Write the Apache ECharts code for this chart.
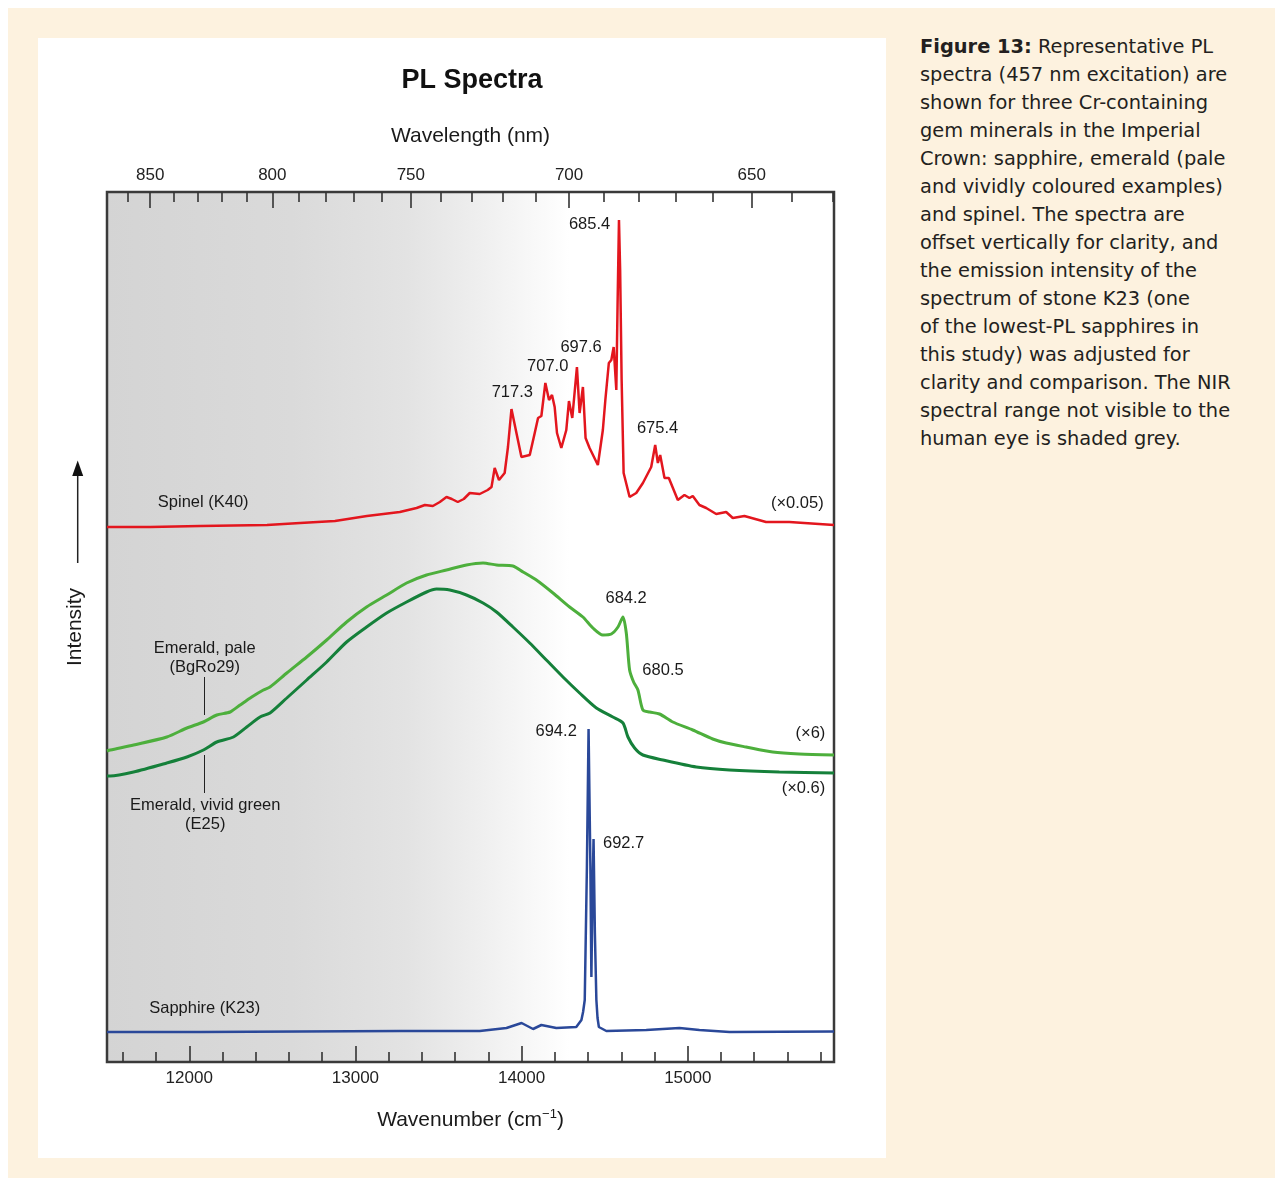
<!DOCTYPE html>
<html>
<head>
<meta charset="utf-8">
<script src="https://cdn.jsdelivr.net/npm/echarts@6/dist/echarts.min.js"></script>
<style>
html,body{margin:0;padding:0;background:#ffffff;}
#bg{position:absolute;left:8px;top:8px;width:1267px;height:1170px;background:#fdf2df;}
#panel{position:absolute;left:38px;top:38px;width:848px;height:1120px;background:#ffffff;}
#caption{position:absolute;left:920px;top:33px;font-family:'DejaVu Sans',sans-serif;font-size:19.4px;line-height:28px;color:#231f20;white-space:nowrap;}
#chart{position:absolute;left:0;top:0;width:1275px;height:1180px;}
</style>
</head>
<body>
<div id="bg"></div>
<div id="panel"></div>
<div id="caption"><b>Figure 13:</b> Representative PL<br>spectra (457 nm excitation) are<br>shown for three Cr-containing<br>gem minerals in the Imperial<br>Crown: sapphire, emerald (pale<br>and vividly coloured examples)<br>and spinel. The spectra are<br>offset vertically for clarity, and<br>the emission intensity of the<br>spectrum of stone K23 (one<br>of the lowest-PL sapphires in<br>this study) was adjusted for<br>clarity and comparison. The NIR<br>spectral range not visible to the<br>human eye is shaded grey.</div>
<div id="chart"></div>
<script>
// ---- axis ranges & tick labels ----
const xMin = 11505, xMax = 15880;            // wavenumber (cm-1)
const yMin = 0, yMax = 87;                   // intensity (arb. units, offset)
const wavenumberMajor = [12000, 13000, 14000, 15000];
const wavenumberMinor = [11600, 11800, 12200, 12400, 12600, 12800, 13200, 13400, 13600, 13800, 14200, 14400, 14600, 14800, 15200, 15400, 15600, 15800];
const wavelengthMajor = [850, 800, 750, 700, 650];
const wavelengthMinor = [860, 840, 830, 820, 810, 790, 780, 770, 760, 740, 730, 720, 710, 690, 680, 670, 660, 640, 630];
const visibleLimitNm = 700;

// ---- series: [wavenumber, intensity] ----
const spinelK40 = [[11505,53.5],[11765,53.5],[12066,53.6],[12468,53.7],[12667,53.9],[12877,54.1],[13069,54.6],[13267,55.0],[13368,55.4],[13418,55.7],[13466,55.6],[13508,56.0],[13548,56.5],[13580,56.3],[13616,56.0],[13652,56.3],[13688,56.9],[13748,56.8],[13796,57.2],[13819,57.5],[13838,59.4],[13864,58.2],[13898,58.9],[13918,61.5],[13939,65.3],[13969,62.9],[13999,60.5],[14049,60.7],[14079,62.9],[14099,64.4],[14119,64.6],[14143,67.9],[14165,66.2],[14183,66.7],[14199,65.5],[14213,62.9],[14239,61.4],[14269,63.2],[14285,66.1],[14305,64.4],[14333,69.5],[14349,64.9],[14369,67.5],[14385,62.4],[14409,61.4],[14459,59.7],[14489,63.2],[14504,66.2],[14525,69.9],[14540,70.2],[14554,71.5],[14570,67.2],[14578,76.2],[14586,84.2],[14593,79.2],[14602,68.2],[14614,58.9],[14650,56.5],[14690,56.9],[14730,57.9],[14780,59.5],[14804,61.7],[14820,59.9],[14834,60.7],[14860,58.4],[14886,58.4],[14940,56.2],[14980,56.7],[15010,56.4],[15030,56.6],[15070,55.7],[15111,55.4],[15171,54.8],[15231,55.0],[15271,54.4],[15341,54.6],[15471,54.0],[15611,54.0],[15880,53.7]];
const emeraldPaleBgRo29 = [[11505,31.1],[11525,31.2],[11665,31.7],[11865,32.5],[11986,33.4],[12085,34.0],[12166,34.7],[12246,35.0],[12306,35.7],[12376,36.5],[12446,37.2],[12486,37.5],[12587,38.9],[12707,40.5],[12827,42.2],[12947,44.0],[13067,45.5],[13188,46.7],[13308,47.9],[13428,48.7],[13548,49.2],[13668,49.7],[13768,49.9],[13849,49.7],[13948,49.6],[14009,49.0],[14089,48.2],[14189,46.9],[14289,45.5],[14369,44.5],[14429,43.4],[14489,42.7],[14540,42.8],[14580,43.5],[14610,44.5],[14630,42.9],[14650,39.2],[14674,38.0],[14700,37.2],[14730,35.2],[14770,35.0],[14830,34.8],[14910,34.0],[15030,33.2],[15150,32.3],[15231,31.9],[15351,31.5],[15511,31.0],[15671,30.8],[15880,30.7]];
const emeraldVividE25 = [[11505,28.6],[11525,28.6],[11665,29.0],[11865,29.9],[11986,30.5],[12085,31.2],[12166,32.0],[12266,32.5],[12346,33.5],[12426,34.5],[12486,34.9],[12587,36.4],[12707,38.2],[12827,40.0],[12947,42.0],[13067,43.5],[13188,44.9],[13308,46.0],[13428,47.0],[13488,47.3],[13568,47.2],[13668,46.7],[13768,45.9],[13849,45.0],[13948,43.5],[14049,41.9],[14149,40.2],[14249,38.5],[14349,36.9],[14450,35.4],[14549,34.5],[14610,33.9],[14640,32.5],[14680,31.4],[14730,30.7],[14850,30.2],[15051,29.5],[15251,29.2],[15551,29.0],[15880,28.9]];
const sapphireK23 = [[11505,3.0],[12065,3.0],[12666,3.05],[13267,3.1],[13748,3.1],[13909,3.4],[14000,3.9],[14069,3.3],[14119,3.7],[14209,3.4],[14329,3.5],[14360,4.2],[14370,5.0],[14380,6.2],[14393,19.5],[14403,33.3],[14414,19.5],[14420,8.5],[14426,16.2],[14433,22.3],[14441,12.9],[14450,6.2],[14457,4.4],[14465,3.5],[14510,3.1],[14750,3.2],[14950,3.4],[15070,3.2],[15251,3.0],[15880,3.05]];

const FONT = "'Liberation Sans', Arial, sans-serif";
const TXT = '#1a1a1a';
const chart = echarts.init(document.getElementById('chart'), null, {renderer: 'canvas'});

function labelPoints(items) {
  return {
    silent: true,
    symbol: 'circle',
    symbolSize: 1,
    itemStyle: {color: 'rgba(0,0,0,0)'},
    label: {show: true, position: 'inside', formatter: '{b}', fontFamily: FONT, fontSize: 16.5, color: TXT, lineHeight: 19.5, align: 'center'},
    data: items.map(it => ({name: it[0], coord: it[1]}))
  };
}

const edge = (1e7 / visibleLimitNm - xMin) / (xMax - xMin);
const nirShade = new echarts.graphic.LinearGradient(0, 0, 1, 0, [
  {offset: 0, color: '#d4d4d4'},
  {offset: 0.4 * edge, color: '#dadada'},
  {offset: 0.65 * edge, color: '#e3e3e3'},
  {offset: 0.8 * edge, color: '#eeeeee'},
  {offset: 0.92 * edge, color: '#f8f8f8'},
  {offset: edge, color: '#ffffff'},
  {offset: 1, color: '#ffffff'}
]);

const tickStyle = {color: '#333333', width: 1.6};
const axisCommon = {type: 'value', min: xMin, max: xMax, gridIndex: 0, silent: true,
  splitLine: {show: false}, axisPointer: {show: false}};

const option = {
  backgroundColor: 'transparent',
  animation: false,
  title: {
    text: 'PL Spectra', left: 472, top: 67, textAlign: 'center', padding: 0,
    textStyle: {fontFamily: FONT, fontWeight: 'bold', fontSize: 27, color: '#111111'}
  },
  grid: {left: 107, right: 441, top: 192, bottom: 118, show: true,
    borderColor: '#3a3a3a', borderWidth: 2.5, backgroundColor: nirShade},
  xAxis: [
    Object.assign({}, axisCommon, {
      position: 'bottom',
      axisLine: {show: false, onZero: false},
      axisTick: {show: true, inside: true, length: 16, customValues: wavenumberMajor, lineStyle: tickStyle},
      axisLabel: {show: true, customValues: wavenumberMajor, margin: 8, formatter: v => String(v),
        fontFamily: FONT, fontSize: 17, color: '#222222'},
      name: 'Wavenumber (cm{sup|−1})', nameLocation: 'middle', nameGap: 46,
      nameTextStyle: {fontFamily: FONT, fontSize: 21, color: '#1a1a1a', lineHeight: 24,
        rich: {sup: {fontFamily: FONT, fontSize: 13, lineHeight: 13, verticalAlign: 'top', color: '#1a1a1a'}}}
    }),
    Object.assign({}, axisCommon, {
      position: 'bottom',
      axisLine: {show: false, onZero: false},
      axisTick: {show: true, inside: true, length: 10, customValues: wavenumberMinor, lineStyle: tickStyle},
      axisLabel: {show: false}
    }),
    Object.assign({}, axisCommon, {
      position: 'top',
      axisLine: {show: false, onZero: false},
      axisTick: {show: true, inside: true, length: 16, customValues: wavelengthMajor.map(l => 1e7 / l), lineStyle: tickStyle},
      axisLabel: {show: true, customValues: wavelengthMajor.map(l => 1e7 / l), margin: 8,
        formatter: v => String(Math.round(1e7 / v)), fontFamily: FONT, fontSize: 17, color: '#222222'},
      name: 'Wavelength (nm)', nameLocation: 'middle', nameGap: 45,
      nameTextStyle: {fontFamily: FONT, fontSize: 21, color: '#1a1a1a'}
    }),
    Object.assign({}, axisCommon, {
      position: 'top',
      axisLine: {show: false, onZero: false},
      axisTick: {show: true, inside: true, length: 10, customValues: wavelengthMinor.map(l => 1e7 / l), lineStyle: tickStyle},
      axisLabel: {show: false}
    })
  ],
  yAxis: {
    type: 'value', min: yMin, max: yMax, silent: true,
    axisLine: {show: false}, axisTick: {show: false}, axisLabel: {show: false}, splitLine: {show: false},
    name: 'Intensity', nameLocation: 'middle', nameRotate: 90, nameGap: 21,
    nameTextStyle: {fontFamily: FONT, fontSize: 21, color: '#1a1a1a'}
  },
  graphic: [
    {type: 'line', silent: true, shape: {x1: 77.7, y1: 563, x2: 77.7, y2: 472}, style: {stroke: '#222222', lineWidth: 1.5}},
    {type: 'polygon', silent: true, shape: {points: [[77.7, 460.5], [72.2, 476], [83.2, 476]]}, style: {fill: '#111111'}}
  ],
  series: [
    {
      name: 'Sapphire (K23)', type: 'line', xAxisIndex: 0, yAxisIndex: 0, data: sapphireK23,
      showSymbol: false, silent: true, lineStyle: {color: '#2a4899', width: 2.5}, itemStyle: {color: '#2a4899'},
      markPoint: labelPoints([['694.2', [14208, 33.1]], ['692.7', [14614, 21.9]], ['Sapphire (K23)', [12093, 5.4]]])
    },
    {
      name: 'Emerald, vivid green (E25)', type: 'line', data: emeraldVividE25, smooth: 0.25,
      showSymbol: false, silent: true, lineStyle: {color: '#15803a', width: 3}, itemStyle: {color: '#15803a'},
      markPoint: labelPoints([['(×0.6)', [15696, 27.4]], ['Emerald, vivid green\n(E25)', [12096, 24.7]]]),
      markLine: {silent: true, symbol: ['none', 'none'], label: {show: false}, lineStyle: {color: '#222222', width: 1, type: 'solid'},
        data: [[{coord: [12091, 30.7]}, {coord: [12091, 26.9]}]]}
    },
    {
      name: 'Emerald, pale (BgRo29)', type: 'line', data: emeraldPaleBgRo29, smooth: 0.25,
      showSymbol: false, silent: true, lineStyle: {color: '#4daf3c', width: 3}, itemStyle: {color: '#4daf3c'},
      markPoint: labelPoints([['684.2', [14629, 46.4]], ['680.5', [14851, 39.2]], ['(×6)', [15738, 32.9]], ['Emerald, pale\n(BgRo29)', [12093, 40.4]]]),
      markLine: {silent: true, symbol: ['none', 'none'], label: {show: false}, lineStyle: {color: '#222222', width: 1, type: 'solid'},
        data: [[{coord: [12091, 38.5]}, {coord: [12091, 34.7]}]]}
    },
    {
      name: 'Spinel (K40)', type: 'line', data: spinelK40,
      showSymbol: false, silent: true, lineStyle: {color: '#e3161e', width: 2.5}, itemStyle: {color: '#e3161e'},
      markPoint: labelPoints([['685.4', [14409, 83.8]], ['697.6', [14358, 71.5]], ['707.0', [14157, 69.6]], ['717.3', [13944, 67.0]],
        ['675.4', [14818, 63.4]], ['Spinel (K40)', [12084, 56.0]], ['(×0.05)', [15659, 55.9]]])
    }
  ]
};
chart.setOption(option);
</script>
</body>
</html>
